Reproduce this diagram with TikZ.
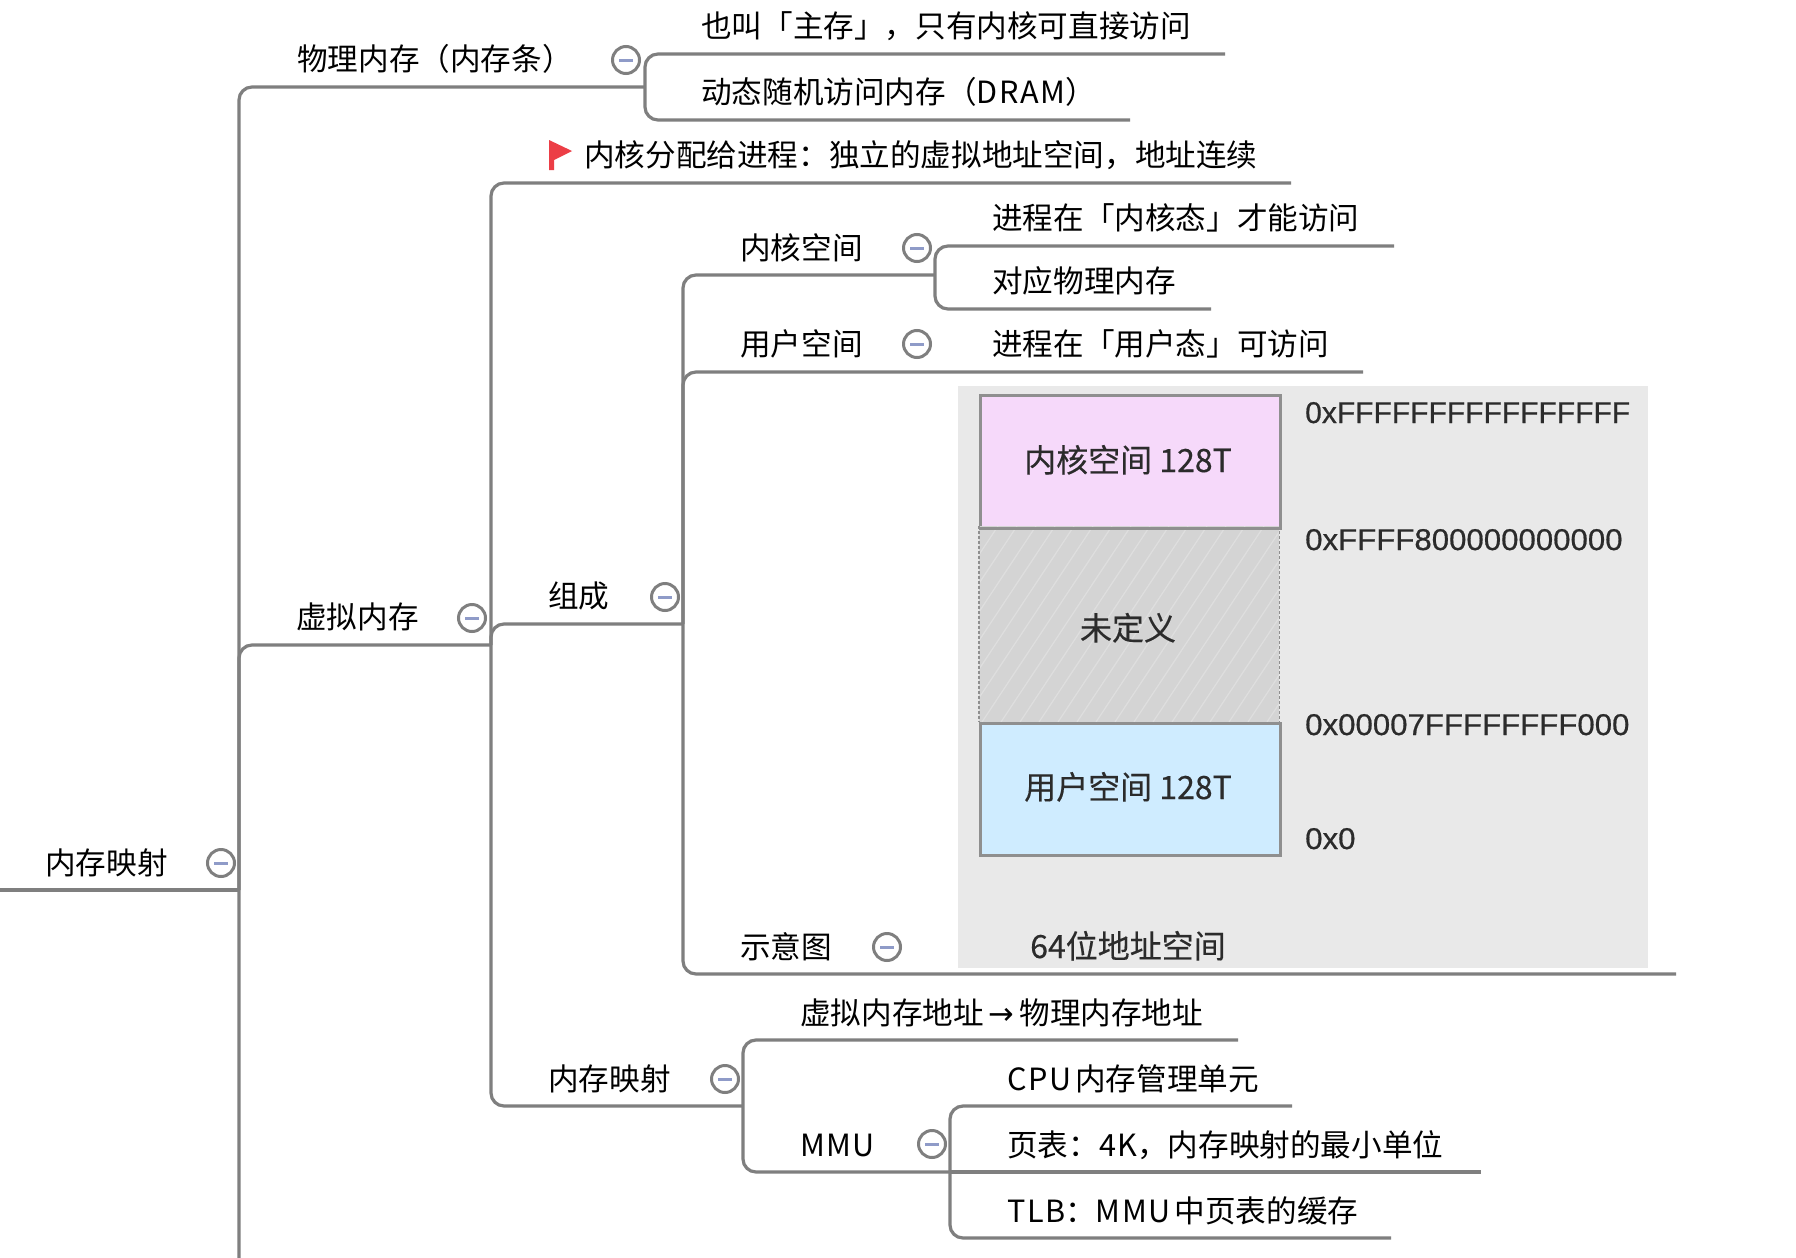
\documentclass[tikz,border=0pt]{standalone}
\usepackage{fontspec}
\setmainfont{Noto Sans CJK SC}
\newfontfamily\imgfont[FakeBold=0.35]{Noto Sans CJK SC}
\newfontfamily\addrfont[FakeBold=0.6]{Liberation Sans}
\newfontfamily\addrfontw[FakeBold=0.6,FakeStretch=1.04]{Liberation Sans}
\newfontfamily\arrowfont{DejaVu Sans}
\newcommand{\lat}[1]{{\addfontfeature{LetterSpace=5}#1}}
\definecolor{linegray}{HTML}{7F7F7F}
\definecolor{panelgray}{HTML}{E9E9E9}
\definecolor{kernpink}{HTML}{F6D9FA}
\definecolor{userblue}{HTML}{CFECFF}
\definecolor{undefgray}{HTML}{D4D4D4}
\definecolor{boxedge}{HTML}{8F8F8F}
\definecolor{flagred}{HTML}{EC3E46}
\definecolor{minusblue}{HTML}{8F9BC8}
\definecolor{imgtext}{HTML}{2B2B2B}
\usetikzlibrary{calc}
\tikzset{
  x=1pt,y=-1pt,
  conn/.style={draw=linegray,line width=3.2pt,rounded corners=13pt},
  lab/.style={anchor=west,inner sep=0pt,xshift=-1pt,text height=27pt,text depth=5pt,font=\fontsize{30.6}{36}\selectfont,text=black},
  collapse/.style={circle,draw=linegray,line width=3pt,fill=white,minimum size=27pt,inner sep=0pt},
  imglab/.style={inner sep=0pt,text height=27pt,text depth=5pt,font=\imgfont\fontsize{32}{38}\selectfont,text=imgtext},
  addr/.style={imglab,anchor=west,font=\addrfont\fontsize{30}{36}\selectfont},
  addrw/.style={imglab,anchor=west,font=\addrfontw\fontsize{30}{36}\selectfont},
  membox/.style={draw=boxedge,line width=2.6pt},
}
\newcommand{\minusmark}[1]{\draw[minusblue,line width=3pt] ($(#1)+(-7,0)$) -- ($(#1)+(7,0)$);}
\begin{document}
\begin{tikzpicture}
\useasboundingbox (0,0) rectangle (1796,1258);
\fill[white] (0,0) rectangle (1796,1258);

% junction coordinates
\coordinate (rootL) at (0,890);
\coordinate (trunkJ) at (239,890);
\coordinate (trunkB) at (239,1258);
\coordinate (physEnd) at (645,87);
\coordinate (virtJ) at (239,645);
\coordinate (virtEnd) at (491,645);
\coordinate (e1) at (1225,54);
\coordinate (e2) at (1130,120);
\coordinate (e3) at (1291,183);
\coordinate (compEnd) at (683,624);
\coordinate (kernEnd) at (935,275);
\coordinate (e4) at (1394,246);
\coordinate (e5) at (1211,309);
\coordinate (e6) at (1363,372);
\coordinate (e7) at (1676,974);
\coordinate (mapEnd) at (743,1106);
\coordinate (e8) at (1238,1040);
\coordinate (mmuEnd) at (950,1172);
\coordinate (e9) at (1292,1106);
\coordinate (e10) at (1481,1172);
\coordinate (e11) at (1391,1238);

% connectors
\draw[conn] (rootL) -- (trunkJ);
\draw[conn] (physEnd) -| (trunkB);
\draw[conn] (virtEnd) -| (trunkJ);
\draw[conn] (e1) -| (physEnd) |- (e2);
\draw[conn] (e3) -| (virtEnd) |- (mapEnd);
\draw[conn] (compEnd) -| (virtEnd);
\draw[conn] (kernEnd) -| (compEnd) |- (e7);
\draw[conn] (e6) -| (compEnd);
\draw[conn] (e4) -| (kernEnd) |- (e5);
\draw[conn] (e8) -| (mapEnd) |- (mmuEnd);
\draw[conn] (e9) -| (mmuEnd) |- (e11);
\draw[conn] (mmuEnd) -- (e10);

% embedded picture
\fill[panelgray] (958,386) rectangle (1648,968);
\node[membox,fill=kernpink,anchor=north west,minimum width=300pt,minimum height=132pt,inner sep=0pt] (kbox) at (979,394) {};
\node[fill=undefgray,anchor=north west,minimum width=300pt,minimum height=196pt,inner sep=0pt] (ubox) at (979,526) {};
\begin{scope}
  \clip (979,526) rectangle (1279,722);
  \foreach \i in {0,19,...,520} {
    \draw[white,opacity=.25,line width=1.2pt] (979+\i-130,722) -- (979+\i,526);
  }
\end{scope}
\draw[boxedge,line width=1.6pt,densely dashed] (ubox.north west) -- (ubox.south west);
\draw[boxedge,line width=1.6pt,densely dashed] (ubox.north east) -- (ubox.south east);
\node[membox,fill=userblue,anchor=north west,minimum width=300pt,minimum height=132pt,inner sep=0pt] (sbox) at (979,722) {};
\draw[membox] (kbox.south west) -- (kbox.south east);

\node[imglab] (tk) at (1128,461) {内核空间 128T};
\node[imglab] (tu) at (1128,629) {未定义};
\node[imglab] (ts) at (1128,788) {用户空间 128T};
\node[imglab] (t64) at (1128,947) {64位地址空间};
\node[addr] (a1) at (1305,412) {0xFFFFFFFFFFFFFFFF};
\node[addrw] (a2) at (1305,539) {0xFFFF800000000000};
\node[addrw] (a3) at (1305,724) {0x00007FFFFFFFF000};
\node[addrw] (a4) at (1305,838) {0x0};

% labels
\node[lab] (root) at (46,863) {内存映射};
\node[lab] (phys) at (298,59) {物理内存（内存条）};
\node[lab] (p1) at (702,26) {也叫「主存」，只有内核可直接访问};
\node[lab] (p2) at (702,92) {动态随机访问内存（\lat{DRAM}）};
\node[lab] (flagtxt) at (585,155) {内核分配给进程：独立的虚拟地址空间，地址连续};
\node[lab] (virt) at (297,617) {虚拟内存};
\node[lab] (comp) at (549,596) {组成};
\node[lab] (kern) at (741,248) {内核空间};
\node[lab] (k1) at (993,218) {进程在「内核态」才能访问};
\node[lab] (k2) at (993,281) {对应物理内存};
\node[lab] (user) at (741,344) {用户空间};
\node[lab] (u1) at (993,344) {进程在「用户态」可访问};
\node[lab] (demo) at (741,947) {示意图};
\node[lab] (map) at (549,1079) {内存映射};
\node[lab] (m1) at (801,1013) {虚拟内存地址\kern5pt{\arrowfont →}\kern5pt 物理内存地址};
\node[lab] (mmu) at (801,1145) {\lat{MMU}};
\node[lab] (c1) at (1008,1079) {\lat{CPU}\kern4pt 内存管理单元};
\node[lab] (c2) at (1008,1145) {页表：\lat{4K}，内存映射的最小单位};
\node[lab] (c3) at (1008,1211) {\lat{TLB}：\lat{MMU}\kern4pt 中页表的缓存};

% flag
\fill[flagred] (549,140) -- (572,151) -- (554,160) -- (554,170) -- (549,170) -- cycle;

% collapse buttons
\foreach \n/\x/\y in {b1/221/863,b2/626/60,b3/472/618,b4/665/597,b5/917/248,b6/917/344,b7/887/947,b8/725/1079,b9/932/1144} {
  \node[collapse] (\n) at (\x,\y) {};
  \minusmark{\n}
}
\end{tikzpicture}
\end{document}
